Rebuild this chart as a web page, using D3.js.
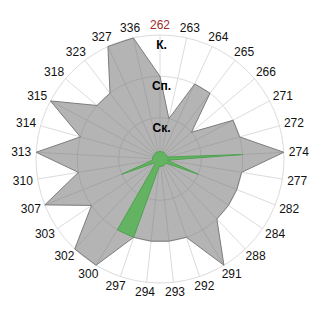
<!DOCTYPE html>
<html>
<head>
<meta charset="utf-8">
<script src="https://cdn.jsdelivr.net/npm/d3@7"></script>
<style>
  html, body { margin: 0; padding: 0; background: #fff; }
  svg { display: block; }
</style>
</head>
<body>
<svg id="chart" width="320" height="320"></svg>
<script>
// Categories around the radar, clockwise from the top
const categories = ["262", "263", "264", "265", "266", "271", "272", "274", "277", "282",
                    "284", "288", "291", "292", "293", "294", "297", "300", "302", "303",
                    "307", "310", "313", "314", "315", "318", "323", "327", "336"];

// Level reached in each category (grey area)
const levelValues = [2, 1, 2, 2, 1, 2, 2, 3, 2, 2,
                     2, 2, 3, 2, 2, 2, 2, 3, 3, 2,
                     3, 2, 3, 2, 3, 2, 2, 3, 3];

// Second series (green area)
const currentValues = [0.18, 0.18, 0.18, 0.18, 0.18, 0.18, 0.18, 2, 0.18, 1,
                       0.18, 0.18, 0.18, 0.18, 0.18, 0.18, 2, 2, 0.18, 0.18,
                       1, 0.18, 0.18, 0.18, 0.18, 0.18, 0.18, 0.18, 0.18];

// Value-axis rings and their labels
const ringValues = [1, 2, 3];
const ringLabels = ["Ск.", "Сп.", "К."];

const highlightCategory = "262";

const width = 320, height = 320;
const cx = 160, cy = 159;
const outerRadius = 124;

const svg = d3.select("#chart");
const g = svg.append("g").attr("transform", `translate(${cx},${cy})`);

const angle = d3.scaleLinear()
  .domain([0, categories.length])
  .range([0, 2 * Math.PI]);

const radius = d3.scaleLinear()
  .domain([0, 3])
  .range([0, outerRadius]);

const font = "Arial, 'Liberation Sans', sans-serif";

// Grid: rings and spokes
g.selectAll("circle.ring")
  .data(ringValues)
  .join("circle")
  .attr("class", "ring")
  .attr("r", d => radius(d))
  .attr("fill", "none")
  .attr("stroke", "#dcdcdc")
  .attr("stroke-width", 1);

g.selectAll("line.spoke")
  .data(categories)
  .join("line")
  .attr("class", "spoke")
  .attr("x1", 0).attr("y1", 0)
  .attr("x2", (d, i) => radius(3) * Math.sin(angle(i)))
  .attr("y2", (d, i) => -radius(3) * Math.cos(angle(i)))
  .attr("stroke", "#dcdcdc")
  .attr("stroke-width", 1);

const radialLine = d3.lineRadial()
  .angle((d, i) => angle(i))
  .radius(d => radius(d))
  .curve(d3.curveLinearClosed);

// Grey area
g.append("path")
  .datum(levelValues)
  .attr("d", radialLine)
  .attr("fill", "rgba(118,118,118,0.55)")
  .attr("stroke", "#7c7c7c")
  .attr("stroke-width", 1)
  .attr("stroke-linejoin", "miter");

// Green area
g.append("path")
  .datum(currentValues)
  .attr("d", radialLine)
  .attr("fill", "#63b363")
  .attr("stroke", "#4fa34f")
  .attr("stroke-width", 1);

// Category labels outside the outer ring
const gap = 5;
const labels = g.selectAll("text.cat")
  .data(categories)
  .join("text")
  .attr("class", "cat")
  .attr("font-family", font)
  .attr("font-size", 12)
  .attr("fill", d => d === highlightCategory ? "#a52a2a" : "#111")
  .attr("text-anchor", "middle")
  .attr("dominant-baseline", "central")
  .text(d => d);

labels.each(function (d, i) {
  const a = angle(i);
  const w = this.getComputedTextLength();
  const s = Math.sin(a), c = Math.cos(a);
  const x = (radius(3) + gap) * s + (w / 2) * s;
  const y = -((radius(3) + gap) * c + 5 * c);
  d3.select(this).attr("x", x).attr("y", y);
});

// Ring labels along the top spoke
g.selectAll("text.ringLabel")
  .data(ringValues)
  .join("text")
  .attr("class", "ringLabel")
  .attr("font-family", font)
  .attr("font-size", 12)
  .attr("font-weight", "bold")
  .attr("fill", "#000")
  .attr("text-anchor", "middle")
  .attr("x", 1.5)
  .attr("y", d => -radius(d) + 14)
  .text((d, i) => ringLabels[i]);
</script>
</body>
</html>
